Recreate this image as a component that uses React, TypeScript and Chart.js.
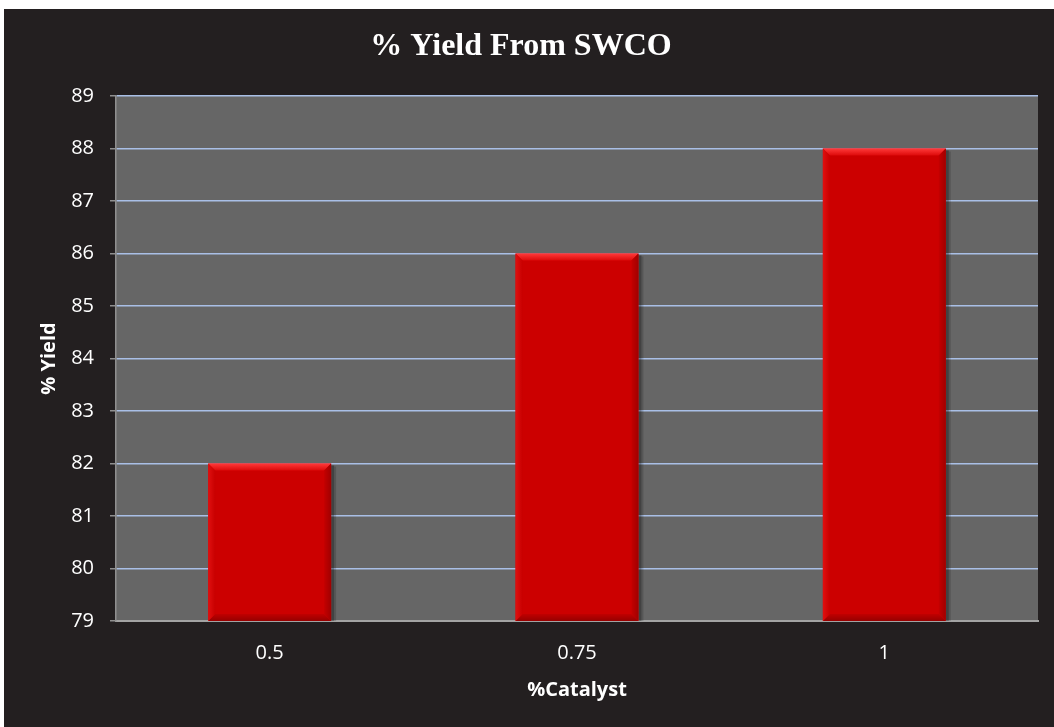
import React, { useEffect, useRef } from "react";
import { Chart, registerables } from "chart.js";

Chart.register(...registerables);

// Data
const catalystLevels: string[] = ["0.5", "0.75", "1"];
const yieldPercent: number[] = [82, 86, 88];
const yMin = 79;
const yMax = 89;

const TITLE = "% Yield From SWCO";
const X_TITLE = "%Catalyst";
const Y_TITLE = "% Yield";

const FRAME_BG = "#231f20";
const PLOT_BG = "#666666";
const BAR_RED = "#cc0000";
const GRID_BLUE = "#a9bfe6";
const AXIS_GREY = "#8f8f8f";
const SANS = "'Open Sans', sans-serif";

// Dark frame behind everything plus the grey plot area
const backgroundPlugin = {
  id: "frameBackground",
  beforeDraw(chart: any) {
    const { ctx, width, height, chartArea } = chart;
    ctx.save();
    ctx.fillStyle = FRAME_BG;
    ctx.fillRect(0, 0, width, height);
    ctx.fillStyle = PLOT_BG;
    ctx.fillRect(
      chartArea.left,
      chartArea.top,
      chartArea.right - chartArea.left,
      chartArea.bottom - chartArea.top
    );
    ctx.restore();
  },
};

function barBox(chart: any, bar: any) {
  const left = bar.x - bar.width / 2;
  const right = bar.x + bar.width / 2;
  const top = Math.max(bar.y, chart.chartArea.top);
  const bottom = Math.min(bar.base, chart.chartArea.bottom);
  return { left, right, top, bottom };
}

// Bevelled edges and a soft right-hand shadow on each bar
const bevelPlugin = {
  id: "barBevel",
  beforeDatasetsDraw(chart: any) {
    const { ctx } = chart;
    const meta = chart.getDatasetMeta(0);
    ctx.save();
    meta.data.forEach((bar: any) => {
      const { right, top, bottom } = barBox(chart, bar);
      ctx.fillStyle = "rgba(0,0,0,0.35)";
      ctx.fillRect(right, top + 2, 3, bottom - top - 2);
      ctx.fillStyle = "rgba(0,0,0,0.15)";
      ctx.fillRect(right + 3, top + 3, 2, bottom - top - 3);
    });
    ctx.restore();
  },
  afterDatasetsDraw(chart: any) {
    const { ctx } = chart;
    const meta = chart.getDatasetMeta(0);
    const b = 7;
    ctx.save();
    meta.data.forEach((bar: any) => {
      const { left, right, top, bottom } = barBox(chart, bar);

      // top bevel (light)
      let g = ctx.createLinearGradient(0, top, 0, top + b);
      g.addColorStop(0, "#ff3a3a");
      g.addColorStop(1, "#dd0a0a");
      ctx.fillStyle = g;
      ctx.beginPath();
      ctx.moveTo(left, top);
      ctx.lineTo(right, top);
      ctx.lineTo(right - b, top + b);
      ctx.lineTo(left + b, top + b);
      ctx.closePath();
      ctx.fill();

      // bottom bevel (dark)
      g = ctx.createLinearGradient(0, bottom - b, 0, bottom);
      g.addColorStop(0, "#c00000");
      g.addColorStop(1, "#960000");
      ctx.fillStyle = g;
      ctx.beginPath();
      ctx.moveTo(left, bottom);
      ctx.lineTo(right, bottom);
      ctx.lineTo(right - b, bottom - b);
      ctx.lineTo(left + b, bottom - b);
      ctx.closePath();
      ctx.fill();

      // left bevel
      g = ctx.createLinearGradient(left, 0, left + b, 0);
      g.addColorStop(0, "#e01010");
      g.addColorStop(1, "#c80000");
      ctx.fillStyle = g;
      ctx.beginPath();
      ctx.moveTo(left, top);
      ctx.lineTo(left + b, top + b);
      ctx.lineTo(left + b, bottom - b);
      ctx.lineTo(left, bottom);
      ctx.closePath();
      ctx.fill();

      // right bevel
      g = ctx.createLinearGradient(right - b, 0, right, 0);
      g.addColorStop(0, "#c40000");
      g.addColorStop(1, "#a00000");
      ctx.fillStyle = g;
      ctx.beginPath();
      ctx.moveTo(right, top);
      ctx.lineTo(right - b, top + b);
      ctx.lineTo(right - b, bottom - b);
      ctx.lineTo(right, bottom);
      ctx.closePath();
      ctx.fill();
    });
    ctx.restore();
  },
};

export default function App() {
  const canvasRef = useRef<HTMLCanvasElement | null>(null);

  useEffect(() => {
    if (!canvasRef.current) return;
    const chart = new Chart(canvasRef.current, {
      type: "bar",
      data: {
        labels: catalystLevels,
        datasets: [
          {
            label: Y_TITLE,
            data: yieldPercent,
            backgroundColor: BAR_RED,
            borderWidth: 0,
            categoryPercentage: 1,
            barPercentage: 0.4,
          },
        ],
      },
      options: {
        animation: false,
        responsive: true,
        maintainAspectRatio: false,
        layout: { padding: { left: 0, right: 16, top: 0, bottom: 0 } },
        plugins: {
          legend: { display: false },
          tooltip: { enabled: false },
          title: {
            display: true,
            text: TITLE,
            color: "#ffffff",
            font: { family: "'Liberation Serif', 'Times New Roman', serif", size: 32, weight: "bold" },
            padding: { top: 19, bottom: 29.6 },
          },
        },
        scales: {
          x: {
            grid: { display: false, drawTicks: false },
            border: { display: true, color: "#a3a3a3", width: 2 },
            ticks: {
              color: "#ffffff",
              font: { family: SANS, size: 20 },
              padding: 20,
            },
            title: {
              display: true,
              text: X_TITLE,
              color: "#ffffff",
              font: { family: SANS, size: 20, weight: "bold" },
              padding: { top: 0, bottom: 25 },
            },
            afterFit(scale: any) {
              scale.height = 106;
            },
          },
          y: {
            min: yMin,
            max: yMax,
            ticks: {
              stepSize: 1,
              color: "#ffffff",
              font: { family: SANS, size: 20 },
              padding: 16,
            },
            grid: {
              color: GRID_BLUE,
              lineWidth: 1.5,
              drawTicks: true,
              tickLength: 6,
              tickColor: AXIS_GREY,
            },
            border: { display: true, color: AXIS_GREY, width: 1.5 },
            title: {
              display: true,
              text: Y_TITLE,
              color: "#ffffff",
              font: { family: SANS, size: 20, weight: "bold" },
              padding: { top: 33, bottom: 0 },
            },
            afterFit(scale: any) {
              scale.width = 112;
            },
          },
        },
      },
      plugins: [backgroundPlugin, bevelPlugin],
    });
    return () => chart.destroy();
  }, []);

  return (
    <div
      style={{
        position: "fixed",
        left: 4,
        top: 9,
        width: 1050,
        height: 718,
        background: FRAME_BG,
      }}
    >
      <canvas ref={canvasRef} />
    </div>
  );
}
